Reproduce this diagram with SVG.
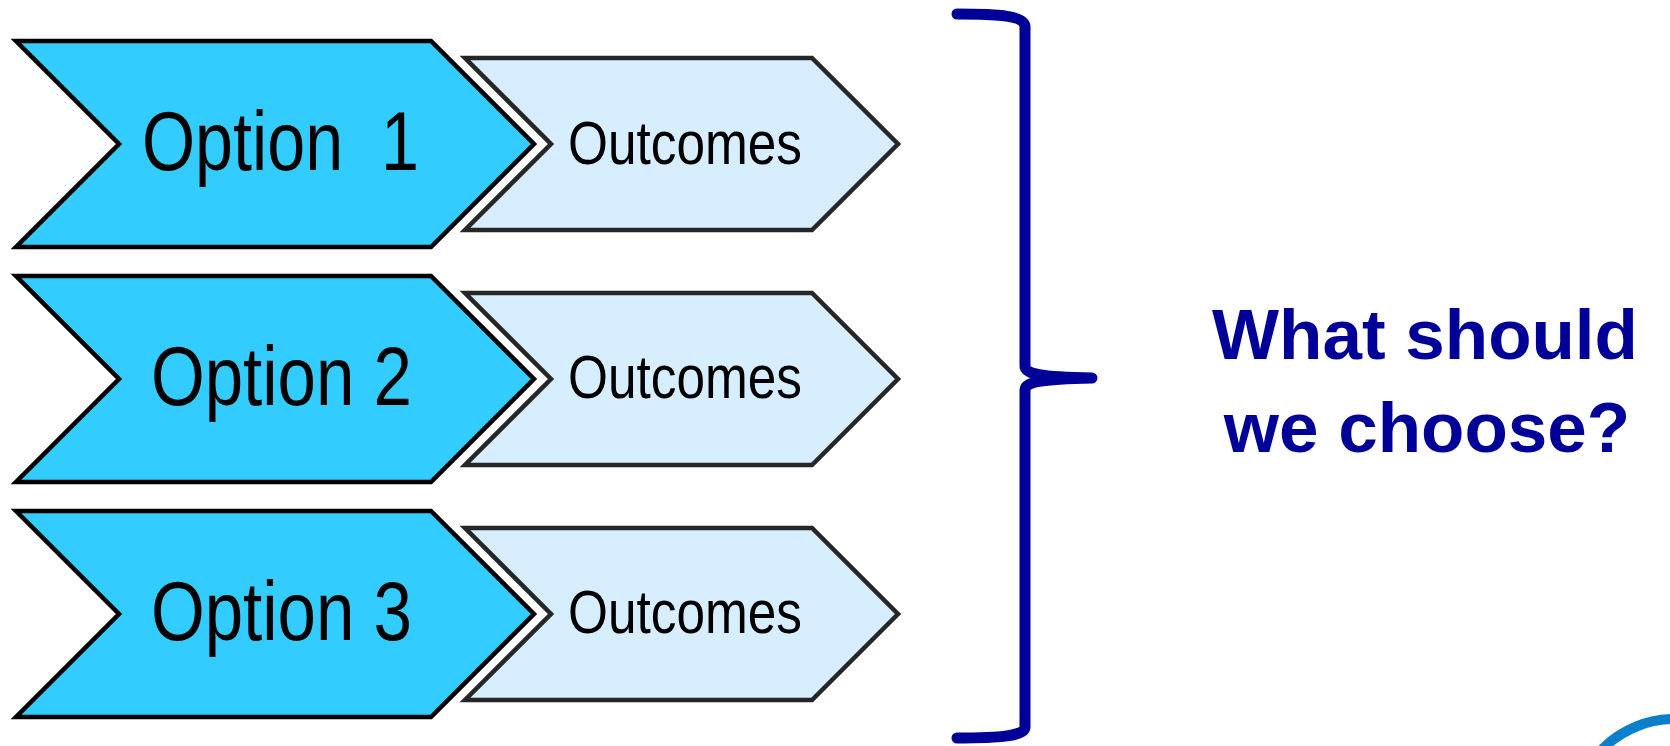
<svg xmlns="http://www.w3.org/2000/svg" width="1670" height="746" viewBox="0 0 1670 746">
  <style>
    .opt { fill: #33CCFF; stroke: #000000; stroke-width: 4.5; stroke-linejoin: miter; }
    .out { fill: #D6EEFF; stroke: #262626; stroke-width: 4.5; stroke-linejoin: miter; }
    .optText { font-family: "Liberation Sans", Arial, sans-serif; font-size: 84px; fill: #000000; }
    .outText { font-family: "Liberation Sans", Arial, sans-serif; font-size: 61px; fill: #000000; }
    .question { font-family: "Liberation Sans", Arial, sans-serif; font-size: 71px; font-weight: bold; fill: #000099; text-anchor: middle; }
    .brace { fill: none; stroke: #000099; stroke-width: 11; stroke-linecap: round; stroke-linejoin: round; }
  </style>

  <!-- option chevrons -->
  <g id="option1">
    <polygon class="opt" points="16,41 431,41 534,144 431,247 16,247 119,144"/>
    <text class="optText" x="142" y="170" textLength="277" lengthAdjust="spacingAndGlyphs" xml:space="preserve">Option  1</text>
  </g>
  <g id="option2">
    <polygon class="opt" points="16,276 431,276 534,379 431,482 16,482 119,379"/>
    <text class="optText" x="151" y="405" textLength="261" lengthAdjust="spacingAndGlyphs">Option 2</text>
  </g>
  <g id="option3">
    <polygon class="opt" points="16,511 431,511 534,614 431,717 16,717 119,614"/>
    <text class="optText" x="151" y="640" textLength="261" lengthAdjust="spacingAndGlyphs">Option 3</text>
  </g>

  <!-- outcome chevrons -->
  <g id="outcome1">
    <polygon class="out" points="465,58 812,58 898,144 812,230 465,230 551,144"/>
    <text class="outText" x="568" y="164" textLength="234" lengthAdjust="spacingAndGlyphs">Outcomes</text>
  </g>
  <g id="outcome2">
    <polygon class="out" points="465,293 812,293 898,379 812,465 465,465 551,379"/>
    <text class="outText" x="568" y="398" textLength="234" lengthAdjust="spacingAndGlyphs">Outcomes</text>
  </g>
  <g id="outcome3">
    <polygon class="out" points="465,528 812,528 898,614 812,700 465,700 551,614"/>
    <text class="outText" x="568" y="633" textLength="234" lengthAdjust="spacingAndGlyphs">Outcomes</text>
  </g>

  <!-- brace grouping the options -->
  <g id="connectors">
    <path class="brace" d="M 957 14 C 1000 14 1025 16 1025 27 L 1025 366 C 1025 374 1040 377 1092 378 C 1040 379 1025 382 1025 390 L 1025 727 C 1025 736 1000 738 957 738"/>
  </g>

  <g id="question">
    <text class="question" x="1425" y="359">What should</text>
    <text class="question" x="1427" y="452">we choose?</text>
  </g>

  <!-- corner emblem edge -->
  <g id="emblem">
    <circle cx="1675" cy="822" r="103" fill="none" stroke="#0A80CC" stroke-width="10"/>
  </g>
</svg>
